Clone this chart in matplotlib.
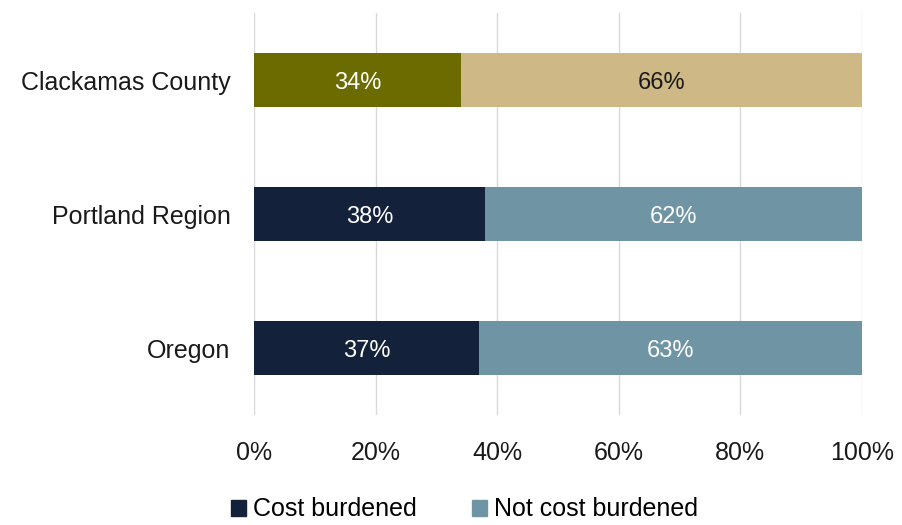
import matplotlib.pyplot as plt
from matplotlib.patches import Patch

regions = ['Clackamas County', 'Portland Region', 'Oregon']
burdened = [34, 38, 37]
not_burdened = [66, 62, 63]

burden_colors = ['#6b6b00', '#14213a', '#14213a']
rest_colors = ['#cdb886', '#6f95a4', '#6f95a4']
rest_text = ['#1a1a1a', 'white', 'white']

plt.rcParams['font.family'] = ['Liberation Sans', 'DejaVu Sans']

fig = plt.figure(figsize=(9.02, 5.25), dpi=100)
ax = fig.add_axes([0.2816, 0.2095, 0.6741, 0.7657])

y = list(range(len(regions)))
ax.barh(y, burdened, height=0.4, color=burden_colors, zorder=3)
ax.barh(y, not_burdened, left=burdened, height=0.4, color=rest_colors, zorder=3)

for i in y:
    ax.text(burdened[i] / 2, i + 0.02, '%d%%' % burdened[i], ha='center', va='center',
            color='white', fontsize=17, zorder=4)
    ax.text(burdened[i] + not_burdened[i] / 2, i + 0.02, '%d%%' % not_burdened[i],
            ha='center', va='center', color=rest_text[i], fontsize=17, zorder=4)

ax.set_xlim(0, 100)
ax.set_ylim(2.5, -0.5)
ax.set_yticks(y)
ax.set_yticklabels(regions, fontsize=18, color='#1a1a1a')
ax.set_xticks([0, 20, 40, 60, 80, 100])
ax.set_xticklabels(['0%', '20%', '40%', '60%', '80%', '100%'], fontsize=18, color='#1a1a1a')
ax.tick_params(axis='both', length=0)
ax.tick_params(axis='y', pad=17)
ax.tick_params(axis='x', pad=19)
ax.grid(axis='x', color='#d9d9d9', linewidth=1, zorder=0)
for s in ax.spines.values():
    s.set_visible(False)

handles = [Patch(color='#14213a', label='Cost burdened'),
           Patch(color='#6f95a4', label='Not cost burdened')]
fig.legend(handles=handles, loc='lower center', bbox_to_anchor=(0.515, -0.036), ncol=2,
           frameon=False, fontsize=18, handlelength=0.6, handleheight=0.6,
           handletextpad=0.3, columnspacing=2.2)

plt.savefig('out.png', dpi=100)
